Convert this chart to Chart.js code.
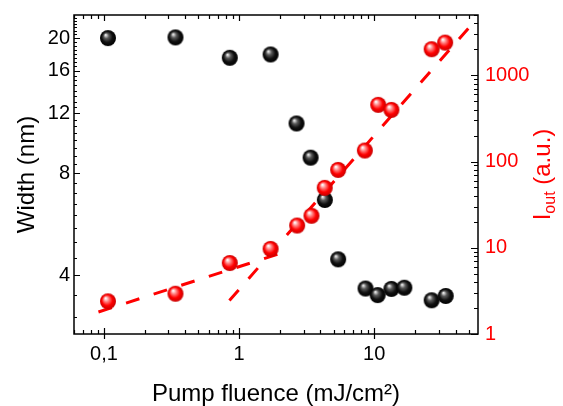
<!DOCTYPE html>
<html>
<head>
<meta charset="utf-8">
<script src="https://cdn.jsdelivr.net/npm/chart.js@4.4.0/dist/chart.umd.min.js"></script>
<style>
  html, body { margin: 0; padding: 0; background: #fff; }
  canvas { display: block; }
</style>
</head>
<body>
<canvas id="chart" width="563" height="406"></canvas>
<script>
// width of the emission vs pump fluence (left axis)
const FLUENCE_W = [0.107, 0.338, 0.853, 1.71, 2.66, 3.38, 4.31, 5.41, 8.62, 10.6, 13.4, 16.7, 26.6, 33.8];
const WIDTH_NM = [20.0, 20.1, 17.5, 17.9, 11.2, 8.88, 6.66, 4.45, 3.65, 3.49, 3.64, 3.67, 3.37, 3.47];

// output intensity vs pump fluence (right axis)
const FLUENCE_I = [0.107, 0.338, 0.853, 1.71, 2.69, 3.43, 4.3, 5.41, 8.52, 10.7, 13.4, 26.6, 33.5];
const I_OUT = [2.39, 2.93, 6.65, 9.7, 18.1, 23.5, 49.5, 80, 134, 454, 397, 2006, 2393];

// dashed fits (end points)
const FIT_LOW_X = [0.091, 1.95];
const FIT_LOW_Y = [1.80, 8.46];
const FIT_HIGH_X = [0.848, 58.6];
const FIT_HIGH_Y = [2.45, 4700];

// axes
const X_RANGE = [0.06, 58.6];
const W_RANGE = [2.68, 23.4];
const I_RANGE = [1, 5000];
const X_LABELS = { '-1': '0,1', '0': '1', '1': '10' };
const WIDTH_TICKS = [4, 8, 12, 16, 20];
const I_LABELS = [1, 10, 100, 1000];

const FONT = 'Liberation Sans, Arial, Helvetica, sans-serif';
const RED = '#ff0000';

const toPoints = (xs, ys) => xs.map((x, i) => ({ x: x, y: ys[i] }));

function sphere(r, hi, mid, base, edge) {
    const c = document.createElement('canvas');
    c.width = c.height = 2 * r + 2;
    const g = c.getContext('2d');
    const cx = r + 1, cy = r + 1;
    const grad = g.createRadialGradient(cx - r * 0.3, cy - r * 0.4, r * 0.05, cx, cy, r);
    grad.addColorStop(0, hi);
    grad.addColorStop(0.3, mid);
    grad.addColorStop(0.65, base);
    grad.addColorStop(1, edge);
    g.fillStyle = grad;
    g.beginPath();
    g.arc(cx, cy, r, 0, Math.PI * 2);
    g.fill();
    return c;
}

const blackBall = sphere(8, '#f0f0f0', '#5a5a5a', '#111', '#000');
const redBall = sphere(8, '#ffffff', '#ff8080', '#ff0000', '#c80000');

const isPow10 = v => Math.abs(Math.log10(v) - Math.round(Math.log10(v))) < 1e-9;

function logTicks(min, max) {
    const out = [];
    for (let e = Math.floor(Math.log10(min)); e <= Math.ceil(Math.log10(max)); e++) {
        for (let k = 1; k <= 9; k++) {
            const v = k * Math.pow(10, e);
            if (v >= min && v <= max) out.push(v);
        }
    }
    return out;
}

// frame, inward ticks and the right-hand title
const framePlugin = {
    id: 'frame',
    afterDatasetsDraw(chart) {
        const { ctx, chartArea: a, scales } = chart;
        ctx.save();
        ctx.strokeStyle = '#000';
        ctx.lineWidth = 1.5;
        ctx.strokeRect(a.left, a.top, a.right - a.left, a.bottom - a.top);

        ctx.lineWidth = 1.2;
        ctx.beginPath();
        logTicks(X_RANGE[0], X_RANGE[1]).forEach(v => {
            const px = Math.round(scales.x.getPixelForValue(v)) + 0.5;
            const major = isPow10(v);
            ctx.moveTo(px, a.bottom + (major ? 5 : 0));
            ctx.lineTo(px, a.bottom - (major ? 6 : 4));
            ctx.moveTo(px, a.top);
            ctx.lineTo(px, a.top + (major ? 6 : 4));
        });
        for (let v = 3; v <= W_RANGE[1]; v += 0.5) {
            const py = Math.round(scales.y.getPixelForValue(v)) + 0.5;
            const major = WIDTH_TICKS.includes(v);
            ctx.moveTo(a.left, py);
            ctx.lineTo(a.left + (major ? 6 : 3), py);
        }
        logTicks(I_RANGE[0], I_RANGE[1]).forEach(v => {
            const py = Math.round(scales.y1.getPixelForValue(v)) + 0.5;
            const major = isPow10(v);
            ctx.moveTo(a.right, py);
            ctx.lineTo(a.right - (major ? 7 : 4), py);
        });
        ctx.stroke();
        ctx.restore();
    },
    afterDraw(chart) {
        const { ctx, chartArea: a } = chart;
        ctx.save();
        ctx.fillStyle = RED;
        ctx.textBaseline = 'alphabetic';
        const big = '24px ' + FONT, small = '16px ' + FONT;
        ctx.font = big;
        const wI = ctx.measureText('I').width;
        const wRest = ctx.measureText(' (a.u.)').width;
        ctx.font = small;
        const wSub = ctx.measureText('out').width;
        const total = wI + wSub + wRest;
        const cy = (a.top + a.bottom) / 2;
        ctx.translate(550, cy + total / 2);
        ctx.rotate(-Math.PI / 2);
        ctx.font = big;
        ctx.fillText('I', 0, 0);
        ctx.font = small;
        ctx.fillText('out', wI, 5);
        ctx.font = big;
        ctx.fillText(' (a.u.)', wI + wSub, 0);
        ctx.restore();
    }
};

const ctx = document.getElementById('chart').getContext('2d');

new Chart(ctx, {
    type: 'scatter',
    data: {
        datasets: [
            {
                label: 'fit low',
                data: toPoints(FIT_LOW_X, FIT_LOW_Y),
                yAxisID: 'y1',
                showLine: true,
                borderColor: RED,
                borderWidth: 3,
                borderDash: [14, 15],
                pointRadius: 0,
                order: 3
            },
            {
                label: 'fit high',
                data: toPoints(FIT_HIGH_X, FIT_HIGH_Y),
                yAxisID: 'y1',
                showLine: true,
                borderColor: RED,
                borderWidth: 3,
                borderDash: [14, 15],
                pointRadius: 0,
                order: 2
            },
            {
                label: 'Width',
                data: toPoints(FLUENCE_W, WIDTH_NM),
                yAxisID: 'y',
                pointStyle: blackBall,
                pointRadius: 8,
                order: 1
            },
            {
                label: 'Iout',
                data: toPoints(FLUENCE_I, I_OUT),
                yAxisID: 'y1',
                pointStyle: redBall,
                pointRadius: 8,
                order: 0
            }
        ]
    },
    options: {
        responsive: false,
        animation: false,
        devicePixelRatio: 1,
        layout: { padding: { top: 15, left: 0, right: 0, bottom: 0 } },
        plugins: {
            legend: { display: false },
            tooltip: { enabled: false }
        },
        scales: {
            x: {
                type: 'logarithmic',
                position: 'bottom',
                min: X_RANGE[0],
                max: X_RANGE[1],
                grid: { display: false, drawTicks: false },
                border: { display: false },
                ticks: {
                    autoSkip: false,
                    maxRotation: 0,
                    color: '#000',
                    padding: 8,
                    font: { family: FONT, size: 20 },
                    callback: v => {
                        if (!isPow10(v)) return '';
                        return X_LABELS[String(Math.round(Math.log10(v)))] || '';
                    }
                },
                title: {
                    display: true,
                    text: 'Pump fluence (mJ/cm²)',
                    color: '#000',
                    font: { family: FONT, size: 24, lineHeight: 1 },
                    padding: { top: 0, bottom: 0 }
                },
                afterFit: s => { s.height = 72; s.paddingLeft = 0; s.paddingRight = 0; }
            },
            y: {
                type: 'logarithmic',
                position: 'left',
                min: W_RANGE[0],
                max: W_RANGE[1],
                grid: { display: false, drawTicks: false },
                border: { display: false },
                afterBuildTicks: s => { s.ticks = WIDTH_TICKS.map(v => ({ value: v })); },
                ticks: {
                    autoSkip: false,
                    color: '#000',
                    padding: 4,
                    font: { family: FONT, size: 20 },
                    callback: v => String(v)
                },
                title: {
                    display: true,
                    text: 'Width (nm)',
                    color: '#000',
                    font: { family: FONT, size: 24, lineHeight: 1 },
                    padding: { top: 15, bottom: 0 }
                },
                afterFit: s => { s.width = 74; s.paddingTop = 0; s.paddingBottom = 0; }
            },
            y1: {
                type: 'logarithmic',
                position: 'right',
                min: I_RANGE[0],
                max: I_RANGE[1],
                grid: { display: false, drawTicks: false },
                border: { display: false },
                ticks: {
                    autoSkip: false,
                    color: RED,
                    padding: 7,
                    font: { family: FONT, size: 20 },
                    callback: v => I_LABELS.some(t => Math.abs(t - v) < 1e-6 * t) ? String(Math.round(v)) : ''
                },
                afterFit: s => { s.width = 85; s.paddingTop = 0; s.paddingBottom = 0; }
            }
        }
    },
    plugins: [framePlugin]
});
</script>
</body>
</html>
